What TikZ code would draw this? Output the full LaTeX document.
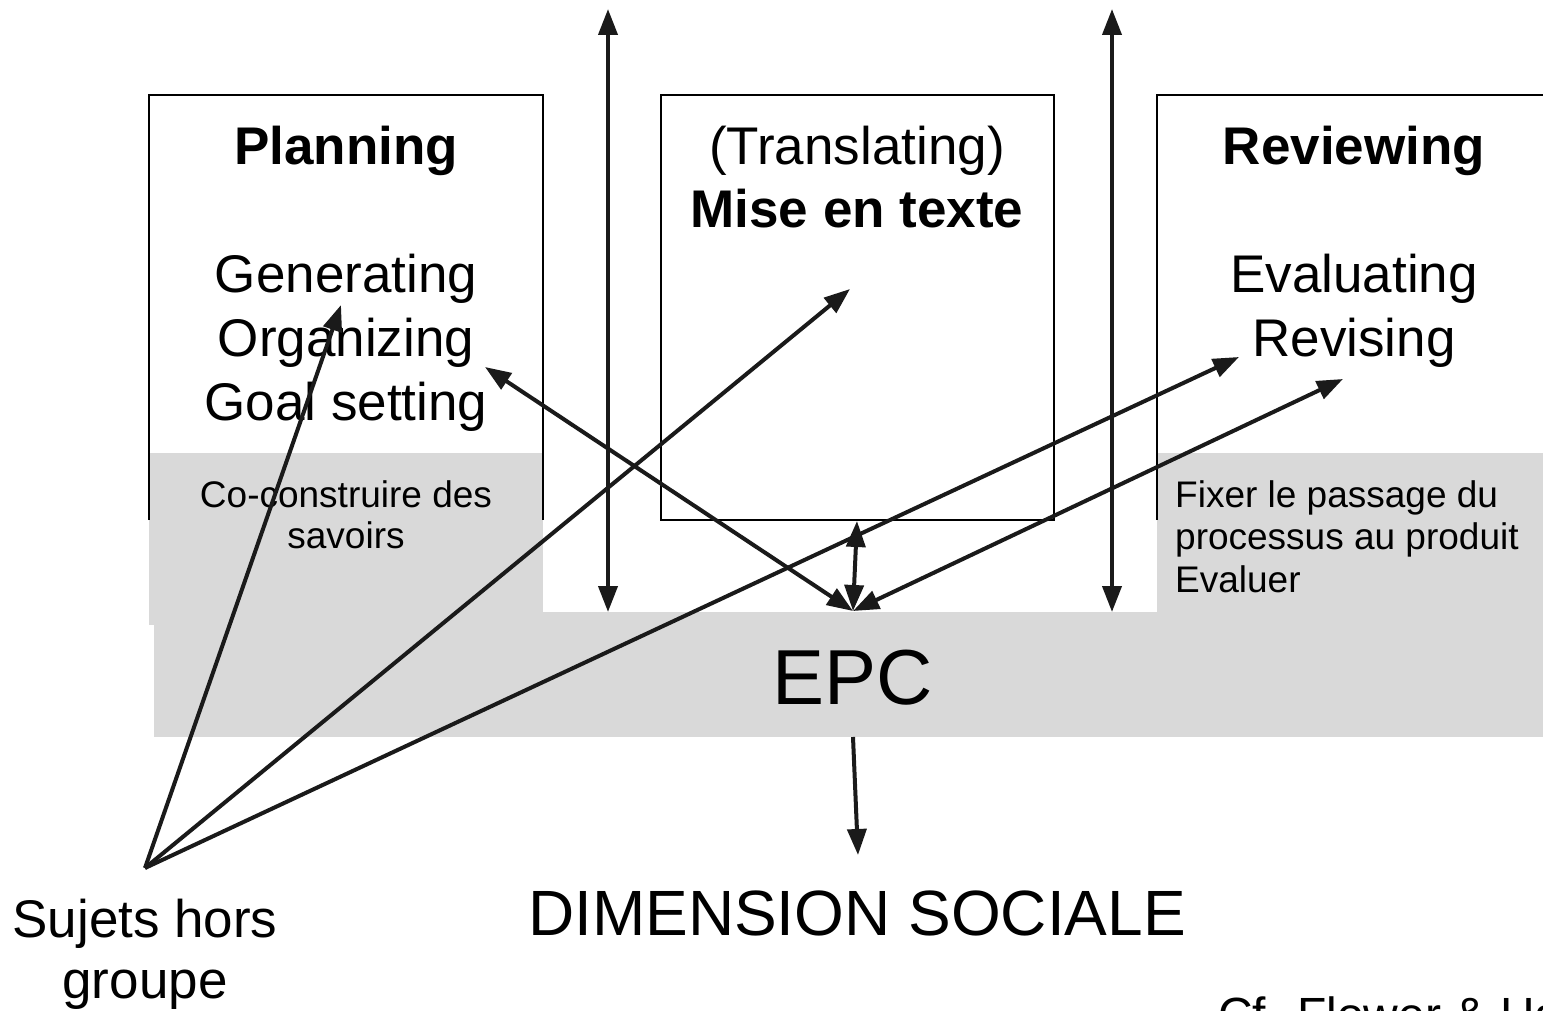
\documentclass[tikz,border=0pt]{standalone}
\usepackage{fontspec}
\setmainfont{Liberation Sans}
\usetikzlibrary{arrows.meta}
\definecolor{epcgray}{RGB}{217,217,217}
\definecolor{arrowink}{RGB}{26,26,26}
\begin{document}
\begin{tikzpicture}[x=1pt,y=-1pt,
  tri/.tip={Triangle[length=26pt,width=19pt]},
  arr/.style={line width=4pt, draw=arrowink, -tri},
  darr/.style={line width=4pt, draw=arrowink, tri-tri},
  boxline/.style={line width=2pt, draw=black},
  txt/.style={inner sep=0pt, anchor=base},
  big/.style={txt, font=\fontsize{53}{64}\selectfont},
  bigb/.style={txt, font=\fontsize{53}{64}\selectfont\bfseries},
  small/.style={txt, font=\fontsize{37}{44}\selectfont},
  smallw/.style={inner sep=0pt, anchor=base west, font=\fontsize{37}{44}\selectfont}]
\useasboundingbox (0,0) rectangle (1543,1011);
\clip (0,0) rectangle (1543,1011);
\fill[white] (0,0) rectangle (1543,1011);

% grey areas
\fill[epcgray] (149,453) rectangle (543,625);
\fill[epcgray] (154,612) rectangle (1543,737);
\fill[epcgray] (1157,453) rectangle (1543,612);

% boxes
\draw[boxline] (149,520) -- (149,95) -- (543,95) -- (543,520);
\draw[boxline] (661,95) rectangle (1054,520);
\draw[boxline] (1157,520) -- (1157,95) -- (1550,95);

% texts
\node[bigb] (planning) at (346,165) {Planning};
\node[big] (gen) at (346,292) {Generating};
\node[big] (org) at (346,356) {Organizing};
\node[big] (goal) at (346,420) {Goal setting};
\node[big] (transl) at (857,165) {(Translating)};
\node[bigb] (mise) at (857,228) {Mise en texte};
\node[bigb] (review) at (1354,165) {Reviewing};
\node[big] (eval) at (1354,292) {Evaluating};
\node[big] (revis) at (1354,356) {Revising};
\node[small] (coc1) at (346,507) {Co-construire des};
\node[small] (coc2) at (346,548) {savoirs};
\node[smallw] (fix1) at (1175,507) {Fixer le passage du};
\node[smallw] (fix2) at (1175,549) {processus au produit};
\node[smallw] (fix3) at (1175,592) {Evaluer};
\node[txt, font=\fontsize{78}{90}\selectfont] (epc) at (853,704) {EPC};
\node[txt, font=\fontsize{64}{76}\selectfont] (dim) at (857,935) {DIMENSION SOCIALE};
\node[big] (suj1) at (145,937) {Sujets hors};
\node[big] (suj2) at (145,998) {groupe};
\node[inner sep=0pt, anchor=base west, font=\fontsize{48}{58}\selectfont] (cf) at (1218,1031) {Cf. Flower \& Hayes};

% connector end points
\coordinate (sujets) at (145,868);
\coordinate (epcTop) at (853,611);
\coordinate (epcBot) at (853,737);
\coordinate (dimTop) at (858,855);
\coordinate (tGen) at (341,305);
\coordinate (tOrg) at (485,367);
\coordinate (tMise) at (850,289);
\coordinate (tEval) at (1239,357);
\coordinate (tRev) at (1343,379);
\coordinate (tMidBot) at (857,521);
\coordinate (v1top) at (608,9);
\coordinate (v1bot) at (608,612);
\coordinate (v2top) at (1112,9);
\coordinate (v2bot) at (1112,612);

% connectors
\draw[darr] (v1top) -- (v1bot);
\draw[darr] (v2top) -- (v2bot);
\draw[darr] (tOrg) -- (epcTop);
\draw[darr] (tRev) -- (epcTop);
\draw[darr] (tMidBot) -- (epcTop);
\draw[arr] (sujets) -- (tGen);
\draw[arr] (sujets) -- (tMise);
\draw[arr] (sujets) -- (tEval);
\draw[arr] (epcBot) -- (dimTop);
\end{tikzpicture}
\end{document}
